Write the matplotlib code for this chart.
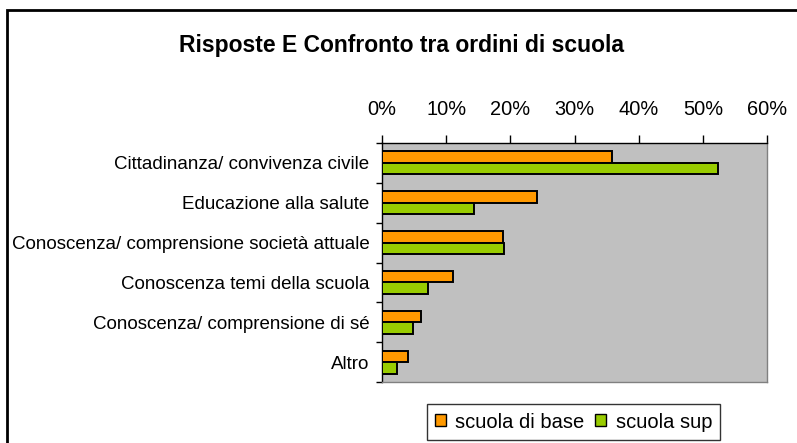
import matplotlib
matplotlib.use("Agg")
import matplotlib.pyplot as plt
from matplotlib.patches import Rectangle, Patch
import numpy as np

categories = [
    "Cittadinanza/ convivenza civile",
    "Educazione alla salute",
    "Conoscenza/ comprensione società attuale",
    "Conoscenza temi della scuola",
    "Conoscenza/ comprensione di sé",
    "Altro",
]
base = [35.9, 24.1, 18.8, 11.0, 6.1, 4.1]
sup = [52.3, 14.4, 19.0, 7.2, 4.8, 2.3]
series_names = ["scuola di base", "scuola sup"]
xticks = [0, 10, 20, 30, 40, 50, 60]
xtick_labels = ["0%", "10%", "20%", "30%", "40%", "50%", "60%"]
title = "Risposte E Confronto tra ordini di scuola"

plt.rcParams['font.family'] = ['Liberation Sans', 'DejaVu Sans']

W, H = 797, 443
fig = plt.figure(figsize=(W / 100, H / 100), dpi=100)
fig.patch.set_facecolor("white")

ax = fig.add_axes([382 / W, 1 - 382 / H, (767 - 382) / W, (382 - 143) / H])
ax.set_facecolor("#C0C0C0")

y = np.arange(len(categories))
h = 0.29
c_base = "#FF9900"
c_sup = "#99CC00"
ax.barh(y - h / 2, base, height=h, color=c_base, edgecolor="black", linewidth=1.4, zorder=3)
ax.barh(y + h / 2, sup, height=h, color=c_sup, edgecolor="black", linewidth=1.4, zorder=3)

ax.set_xlim(0, 60)
ax.set_ylim(len(categories) - 0.5, -0.5)
ax.xaxis.tick_top()
ax.set_xticks(xticks)
ax.set_xticklabels(xtick_labels, fontsize=14.4)
ax.tick_params(axis="x", direction="out", length=6, width=1, pad=11, colors="black")

ax.set_yticks(y)
ax.set_yticklabels(categories, fontsize=13.5)
ax.tick_params(axis="y", which="major", length=0, pad=9)
ax.set_yticks(np.arange(len(categories) + 1) - 0.5, minor=True)
ax.tick_params(axis="y", which="minor", direction="out", length=4, width=1)

for s in ["top", "left"]:
    ax.spines[s].set_color("black")
    ax.spines[s].set_linewidth(1)
for s in ["right", "bottom"]:
    ax.spines[s].set_color("#808080")
    ax.spines[s].set_linewidth(1)

fig.text(402 / W, 1 - 52 / H, title, ha="center", va="baseline", fontsize=16.5, fontweight="bold")

handles = [Patch(facecolor=c_base, edgecolor="black", linewidth=1),
           Patch(facecolor=c_sup, edgecolor="black", linewidth=1)]
leg = fig.legend(handles, series_names, loc="center", bbox_to_anchor=(573.5 / W, 1 - 422 / H),
                 ncol=2, frameon=True, fancybox=False, fontsize=14.5, handlelength=0.55,
                 handleheight=0.55, handletextpad=0.45, columnspacing=0.55, borderpad=0.4,
                 borderaxespad=0)
leg.get_frame().set_edgecolor("black")
leg.get_frame().set_linewidth(1)

fig.patches.append(Rectangle((6.5 / W, -0.1), 2, 1 - 9.5 / H + 0.1, transform=fig.transFigure,
                             fill=False, edgecolor="black", linewidth=2, zorder=10))

fig.savefig("out.png", dpi=100)
